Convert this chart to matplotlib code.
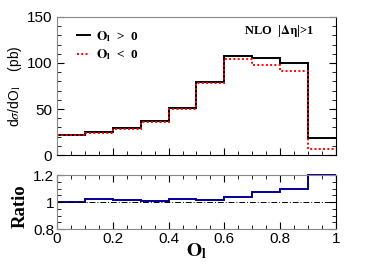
import matplotlib
matplotlib.use("Agg")
import matplotlib.pyplot as plt
from matplotlib.ticker import MultipleLocator
import numpy as np

plt.rcParams['font.family'] = ['Liberation Sans', 'DejaVu Sans']
plt.rcParams['mathtext.fontset'] = 'stix'

# bin edges of O_l and the two distributions (pb)
edges = [0.0, 0.1, 0.2, 0.3, 0.4, 0.5, 0.6, 0.7, 0.8, 0.9, 1.0]
pos_vals = [22, 25, 29, 37, 51, 79, 108, 105, 100, 19]
neg_vals = [22, 24, 28, 36, 50, 78, 104, 98, 91, 7]
ratio_vals = [1.0, 1.025, 1.017, 1.01, 1.02, 1.013, 1.037, 1.074, 1.096, 1.2]
xtick_labels = ['0', '0.2', '0.4', '0.6', '0.8', '1']

fig = plt.figure(figsize=(3.74, 2.68), dpi=100)
ax = fig.add_axes([0.1524, 0.4216, 0.746, 0.515])
axr = fig.add_axes([0.1524, 0.1455, 0.746, 0.2015])

serif_bold = dict(family=['Liberation Serif', 'DejaVu Serif'], weight='bold')

# upper panel
ax.stairs(pos_vals, edges, baseline=None, color='black', lw=1.4, label=r'$\mathbf{O}_\mathbf{l}$  >  0')
ax.stairs(neg_vals, edges, baseline=None, color='red', lw=1.4, ls=(0, (1, 1.2)), label=r'$\mathbf{O}_\mathbf{l}$  <  0')
ax.set_xlim(0, 1)
ax.set_ylim(0, 150)
ax.yaxis.set_major_locator(MultipleLocator(50))
ax.yaxis.set_minor_locator(MultipleLocator(10))
ax.xaxis.set_major_locator(MultipleLocator(0.2))
ax.xaxis.set_minor_locator(MultipleLocator(0.05))
ax.tick_params(which='both', direction='in', right=True, top=False, labelbottom=False, labelsize=11)
ax.tick_params(which='major', length=5)
ax.tick_params(which='minor', length=3)
ax.set_ylabel(r'd$\sigma$/dO$_{\mathrm{l}}$    (pb)', fontsize=10, labelpad=2)
leg = ax.legend(loc='upper left', bbox_to_anchor=(0.03, 1.0), frameon=False, handlelength=1.0,
                handletextpad=0.4, labelspacing=0.3, prop=dict(size=9.5, **serif_bold))
ax.text(0.92, 0.9, r'NLO  |$\mathbf{\Delta\eta}$|>1', transform=ax.transAxes, ha='right', va='center',
        fontsize=9, **serif_bold)
for s in ['top', 'left']:
    ax.spines[s].set_color('#888888')

# ratio panel
axr.stairs(ratio_vals, edges, baseline=None, color='#000099', lw=1.4, clip_on=False)
axr.axhline(1.0, color='black', lw=0.7, ls=(0, (6, 2, 1, 2)))
axr.set_xlim(0, 1)
axr.set_ylim(0.8, 1.2)
axr.yaxis.set_minor_locator(MultipleLocator(0.05))
axr.xaxis.set_minor_locator(MultipleLocator(0.05))
axr.set_xticks(np.linspace(0, 1, 6))
axr.set_xticklabels(xtick_labels)
axr.set_yticks([0.8, 1.0, 1.2])
axr.set_yticklabels(['0.8', '1', '1.2'])
axr.tick_params(which='both', direction='in', right=True, top=True, labelsize=11, pad=2)
axr.tick_params(which='major', length=5)
axr.tick_params(which='minor', length=3)
axr.set_ylabel('Ratio', fontsize=13.5, **serif_bold)
axr.yaxis.set_label_coords(-0.1, 0.42)
axr.set_xlabel(r'$\mathbf{O}_\mathbf{l}$', fontsize=14, labelpad=-3)
for s in ['top', 'left', 'bottom']:
    axr.spines[s].set_color('#888888')

plt.savefig("out.png", dpi=100)
